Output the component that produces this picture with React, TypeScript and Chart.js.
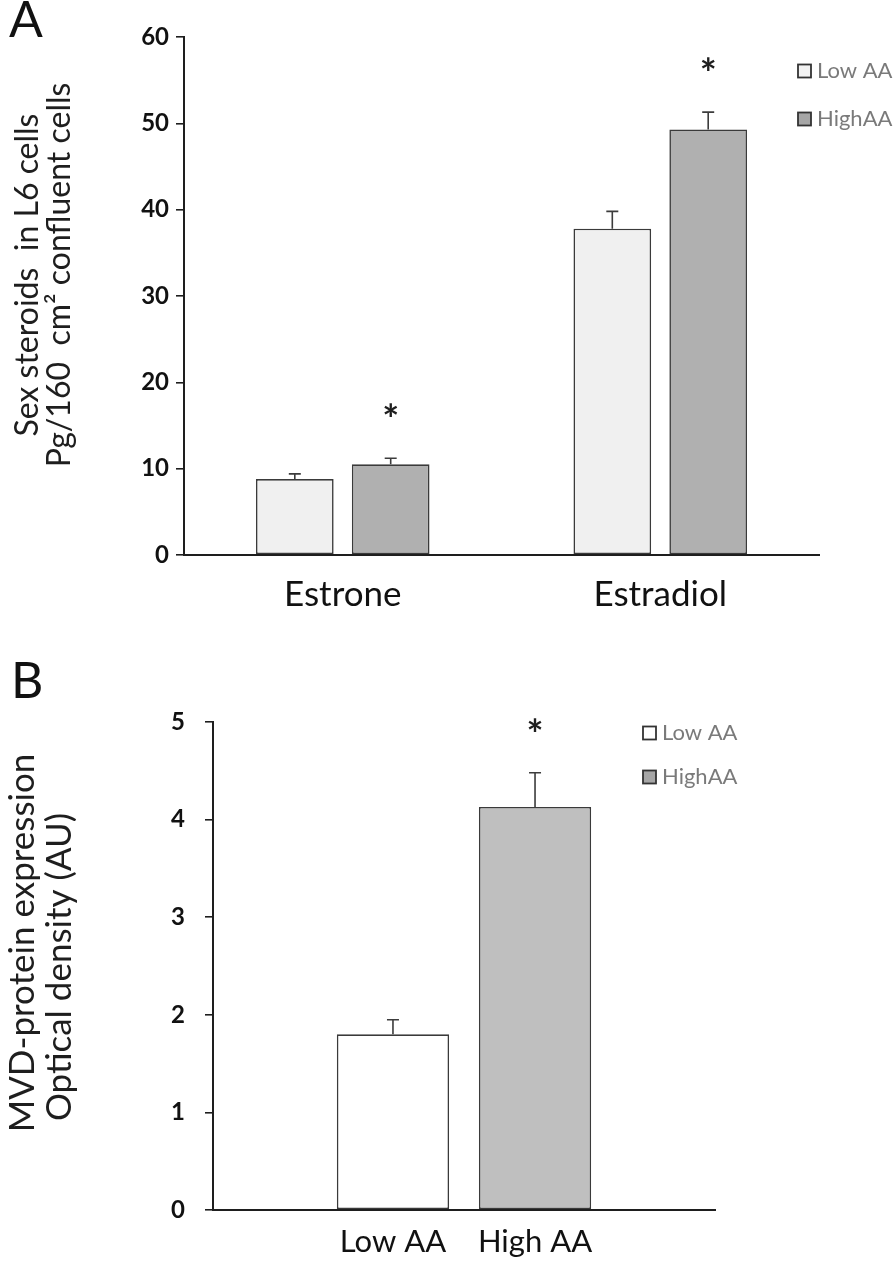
import React, { useEffect, useRef } from "react";
import { Chart, registerables } from "chart.js";

Chart.register(...registerables);

// ---------------- data ----------------
const seriesNames = ["Low AA", "HighAA"];

// Panel A
const categoriesA = ["Estrone", "Estradiol"];
const lowA = [8.8, 37.8];
const highA = [10.5, 49.3];
const lowErrA = [0.6, 2.0];
const highErrA = [0.7, 2.0];
const lowSigA = [false, false];
const highSigA = [true, true];
const yTickValuesA = [0, 10, 20, 30, 40, 50, 60];
const yTitleA = ["Sex steroids  in L6 cells", "Pg/160  cm\u00B2 confluent cells"];

// Panel B
const categoriesB = ["Low AA", "High AA"];
const valuesB = [1.8, 4.13];
const errB = [0.15, 0.35];
const sigB = [false, true];
const yTickValuesB = [0, 1, 2, 3, 4, 5];
const yTitleB = ["MVD-protein expression", "Optical density (AU)"];

// ---------------- styling ----------------
const FONT = "Lato, 'Open Sans', sans-serif";
const INK = "#1e1e1e";
const BAR_EDGE = "#3a3a3a";

type PanelSpec = {
  height: number;
  area: { left: number; right: number; top: number; bottom: number };
  config: () => any;
};

function makeErrorPlugin(errs: number[][], sig: boolean[][], capHalf: number, starFont: number) {
  return {
    id: "errbars",
    afterDatasetsDraw(chart: any) {
      const ctx = chart.ctx;
      const y = chart.scales.y;
      errs.forEach((list, di) => {
        const meta = chart.getDatasetMeta(di);
        meta.data.forEach((el: any, i: number) => {
          const v = chart.data.datasets[di].data[i] as number;
          if (v == null) return;
          const top = y.getPixelForValue(v + list[i]);
          ctx.save();
          ctx.strokeStyle = "#3c3c3c";
          ctx.lineWidth = 1.6;
          ctx.beginPath();
          ctx.moveTo(el.x, el.y);
          ctx.lineTo(el.x, top);
          ctx.moveTo(el.x - capHalf, top);
          ctx.lineTo(el.x + capHalf, top);
          ctx.stroke();
          if (sig[di][i]) {
            ctx.fillStyle = INK;
            ctx.font = `bold ${starFont}px ${FONT}`;
            ctx.textAlign = "center";
            ctx.textBaseline = "alphabetic";
            ctx.fillText("*", el.x, top - 24);
          }
          ctx.restore();
        });
      });
    },
  };
}

function makeDecorPlugin(opts: {
  letter: string;
  letterX: number;
  letterY: number;
  letterFont: number;
  titleLines: string[];
  titleFont: number;
  titleBaseX: number[];
  titleY: number[];
  legendX: number;
  legendY: number[];
  legendFills: string[];
  legendFont: number;
  legendBox: number;
  barLabels?: string[];
  barLabelY?: number;
  barLabelFont?: number;
}) {
  return {
    id: "decor",
    afterDraw(chart: any) {
      const ctx = chart.ctx;
      ctx.save();
      // panel letter
      ctx.fillStyle = "#111";
      ctx.font = `${opts.letterFont}px ${FONT}`;
      ctx.textAlign = "left";
      ctx.textBaseline = "alphabetic";
      ctx.fillText(opts.letter, opts.letterX, opts.letterY);
      // y title (rotated; baseline faces right)
      ctx.font = `${opts.titleFont}px ${FONT}`;
      ctx.fillStyle = INK;
      ctx.textAlign = "center";
      ctx.textBaseline = "alphabetic";
      opts.titleLines.forEach((line, i) => {
        ctx.save();
        ctx.translate(opts.titleBaseX[i], opts.titleY[i]);
        ctx.rotate(-Math.PI / 2);
        ctx.fillText(line, 0, 0);
        ctx.restore();
      });
      // legend
      const half = opts.legendBox / 2;
      chart.data.datasets.forEach((ds: any, i: number) => {
        const cy = opts.legendY[i];
        ctx.fillStyle = opts.legendFills[i];
        ctx.fillRect(opts.legendX, cy - half, opts.legendBox, opts.legendBox);
        ctx.strokeStyle = "#333";
        ctx.lineWidth = 1.8;
        ctx.strokeRect(opts.legendX, cy - half, opts.legendBox, opts.legendBox);
        ctx.fillStyle = "#7a7a7a";
        ctx.font = `${opts.legendFont}px ${FONT}`;
        ctx.textAlign = "left";
        ctx.textBaseline = "middle";
        ctx.fillText(ds.label, opts.legendX + opts.legendBox + 6, cy);
      });
      // labels under bars (single-category panel)
      if (opts.barLabels) {
        ctx.fillStyle = "#111";
        ctx.font = `${opts.barLabelFont}px ${FONT}`;
        ctx.textAlign = "center";
        ctx.textBaseline = "middle";
        opts.barLabels.forEach((lab, i) => {
          const el = chart.getDatasetMeta(i).data[0];
          ctx.fillText(lab, el.x, opts.barLabelY);
        });
      }
      ctx.restore();
    },
  };
}

function axisOptions(
  area: PanelSpec["area"],
  height: number,
  ticks: number[],
  yFont: number,
  yPad: number,
  xFont: number,
  xPad: number,
  showX: boolean
) {
  return {
    x: {
      grid: { display: false },
      border: { display: true, color: INK, width: 2 },
      ticks: {
        display: showX,
        color: "#111",
        font: { family: FONT, size: xFont },
        padding: xPad,
        maxRotation: 0,
      },
      afterFit: (s: any) => {
        s.height = height - area.bottom;
      },
    },
    y: {
      min: ticks[0],
      max: ticks[ticks.length - 1],
      grid: {
        display: true,
        drawOnChartArea: false,
        drawTicks: true,
        tickLength: 8,
        color: INK,
        lineWidth: 1.6,
      },
      border: { display: true, color: INK, width: 2 },
      ticks: {
        stepSize: ticks[1] - ticks[0],
        color: "#111",
        font: { family: FONT, size: yFont, weight: "bold" },
        padding: yPad,
      },
      afterFit: (s: any) => {
        s.width = area.left;
      },
    },
  };
}

const specA: PanelSpec = {
  height: 620,
  area: { left: 184, right: 819, top: 37, bottom: 555 },
  config() {
    const a = this.area;
    return {
      type: "bar",
      data: {
        labels: categoriesA,
        datasets: [
          {
            label: seriesNames[0],
            data: lowA,
            backgroundColor: "#f0f0f0",
            borderColor: BAR_EDGE,
            borderWidth: 1.6,
            borderSkipped: false,
            categoryPercentage: 0.604,
            barPercentage: 0.81,
          },
          {
            label: seriesNames[1],
            data: highA,
            backgroundColor: "#b0b0b0",
            borderColor: BAR_EDGE,
            borderWidth: 1.6,
            borderSkipped: false,
            categoryPercentage: 0.604,
            barPercentage: 0.81,
          },
        ],
      },
      options: {
        responsive: false,
        animation: false,
        layout: { padding: { top: a.top, right: 894 - a.right, left: 0, bottom: 0 } },
        plugins: { legend: { display: false }, tooltip: { enabled: false } },
        scales: axisOptions(a, 620, yTickValuesA, 24, 7, 35, 11, true),
      },
      plugins: [
        makeErrorPlugin([lowErrA, highErrA], [lowSigA, highSigA], 6, 40),
        makeDecorPlugin({
          letter: "A",
          letterX: 9,
          letterY: 37,
          letterFont: 50,
          titleLines: yTitleA,
          titleFont: 32,
          titleBaseX: [38, 70],
          titleY: [275, 275],
          legendX: 798,
          legendY: [71, 119],
          legendFills: ["#f2f2f2", "#a6a6a6"],
          legendFont: 22,
          legendBox: 13,
        }),
      ],
    };
  },
};

const specB: PanelSpec = {
  height: 642,
  area: { left: 213, right: 715, top: 102, bottom: 590 },
  config() {
    const a = this.area;
    return {
      type: "bar",
      data: {
        labels: [""],
        datasets: [
          {
            label: seriesNames[0],
            data: [valuesB[0]],
            backgroundColor: "#ffffff",
            borderColor: BAR_EDGE,
            borderWidth: 1.6,
            borderSkipped: false,
            categoryPercentage: 0.566,
            barPercentage: 0.79,
          },
          {
            label: seriesNames[1],
            data: [valuesB[1]],
            backgroundColor: "#bfbfbf",
            borderColor: BAR_EDGE,
            borderWidth: 1.6,
            borderSkipped: false,
            categoryPercentage: 0.566,
            barPercentage: 0.79,
          },
        ],
      },
      options: {
        responsive: false,
        animation: false,
        layout: { padding: { top: a.top, right: 894 - a.right, left: 0, bottom: 0 } },
        plugins: { legend: { display: false }, tooltip: { enabled: false } },
        scales: axisOptions(a, 642, yTickValuesB, 24, 20, 28, 10, false),
      },
      plugins: [
        makeErrorPlugin([[errB[0]], [errB[1]]], [[sigB[0]], [sigB[1]]], 6, 40),
        makeDecorPlugin({
          letter: "B",
          letterX: 11,
          letterY: 78,
          letterFont: 50,
          titleLines: yTitleB,
          titleFont: 35,
          titleBaseX: [34, 71],
          titleY: [323, 347],
          legendX: 643,
          legendY: [113, 157],
          legendFills: ["#ffffff", "#a6a6a6"],
          legendFont: 22,
          legendBox: 13,
          barLabels: categoriesB,
          barLabelY: 622,
          barLabelFont: 31,
        }),
      ],
    };
  },
};

function Panel({ spec, top }: { spec: PanelSpec; top: number }) {
  const ref = useRef<HTMLCanvasElement | null>(null);
  useEffect(() => {
    if (!ref.current) return;
    const chart = new Chart(ref.current, spec.config());
    return () => chart.destroy();
  }, [spec]);
  return (
    <div style={{ position: "absolute", left: 0, top, width: 894, height: spec.height }}>
      <canvas ref={ref} width={894} height={spec.height} style={{ display: "block" }} />
    </div>
  );
}

export default function App() {
  return (
    <div
      style={{
        position: "absolute",
        left: 0,
        top: 0,
        width: 894,
        height: 1262,
        background: "#ffffff",
        overflow: "hidden",
      }}
    >
      <Panel spec={specA} top={0} />
      <Panel spec={specB} top={620} />
    </div>
  );
}
